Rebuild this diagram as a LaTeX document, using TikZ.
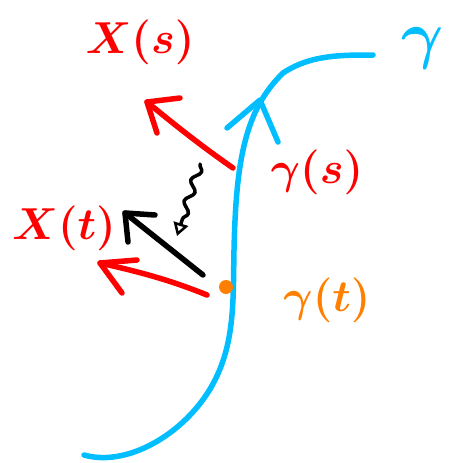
\documentclass[tikz,border=0pt]{standalone}
\usetikzlibrary{decorations.pathmorphing,arrows.meta}
\definecolor{cblue}{RGB}{0,190,255}
\definecolor{cred}{RGB}{255,0,0}
\definecolor{corange}{RGB}{255,128,0}
\newcommand{\biglbl}[1]{\scalebox{1.8}{\Huge\boldmath #1}}
\begin{document}
\begin{tikzpicture}[x=1pt,y=-1pt,
  stroke/.style={line width=5.5pt,line cap=round,line join=round},
  lbl/.style={inner sep=0pt}]
\useasboundingbox (0,0) rectangle (453,463);
% curve gamma
\draw[stroke,cblue] (84,455) .. controls (130,468) and (190,430) .. (215,380)
  .. controls (235,340) and (233,300) .. (234,250)
  .. controls (236,160) and (245,110) .. (283,73)
  .. controls (310,55) and (340,55) .. (373,55);
\coordinate (ah) at (260,100);
\coordinate (ahl) at (227,128);
\coordinate (ahr) at (278,142);
\draw[stroke,cblue] (ahl) -- (ah) -- (ahr);
\node[lbl,text=cblue] (g) at (423,48) {\scalebox{2.6}{\Huge\boldmath $\gamma$}};
% point gamma(t)
\fill[corange] (226,287) circle (7);
\coordinate (pt) at (207,295);
\coordinate (ps) at (233,168);
\node[lbl,text=corange] (gt) at (327,300) {\biglbl{$\gamma(t)$}};
\node[lbl,text=cred] (gs) at (317,172) {\biglbl{$\gamma(s)$}};
\node[lbl,text=cred] (xs) at (140,42) {\biglbl{$X(s)$}};
\node[lbl,text=cred] (xt) at (64,228) {\biglbl{$X(t)$}};
% X(t) red arrow
\coordinate (xtt) at (100,263);
\draw[stroke,cred] (pt) .. controls (170,280) and (140,272) .. (xtt);
\draw[stroke,cred] (137,260) -- (xtt) -- (122,293);
% X(s) red arrow
\coordinate (xst) at (147,102);
\draw[stroke,cred] (ps) .. controls (200,145) and (175,125) .. (xst);
\draw[stroke,cred] (180,98) -- (xst) -- (157,133);
% black transported arrow
\coordinate (bs) at (203,275);
\coordinate (bt) at (125,213);
\draw[stroke,black] (bs) -- (bt);
\draw[stroke,black] (155,215) -- (bt) -- (128,242);
% squiggly arrow
\coordinate (sq1) at (200,164);
\coordinate (sq2) at (177,236);
\draw[line width=3.5pt,line cap=round,line join=round,decorate,decoration={snake,amplitude=4pt,segment length=22pt,post length=10pt},-{Triangle[open,length=13pt,width=15pt,line width=2.5pt]}] (sq1) -- (sq2);
\end{tikzpicture}
\end{document}
